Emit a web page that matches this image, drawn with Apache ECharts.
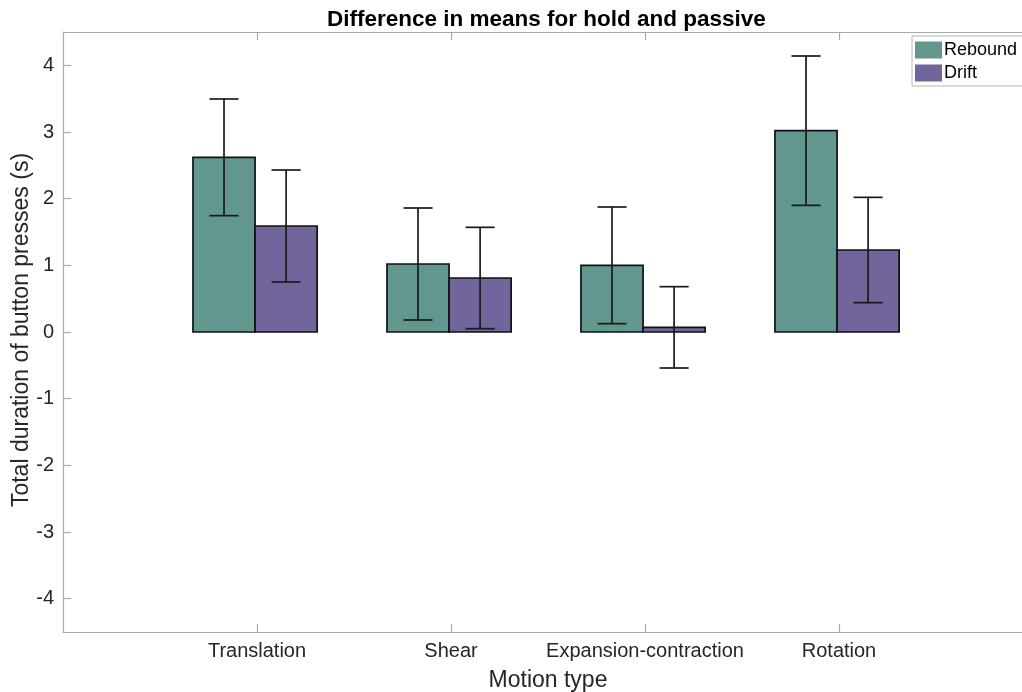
<!DOCTYPE html>
<html>
<head>
<meta charset="utf-8">
<script src="https://cdn.jsdelivr.net/npm/echarts@6/dist/echarts.min.js"></script>
<style>html,body{margin:0;padding:0;background:#fff;}#c{width:1022px;height:692px;}</style>
</head>
<body>
<div id="c"></div>
<script>
var categories = ['Translation', 'Shear', 'Expansion-contraction', 'Rotation'];
var seriesNames = ['Rebound', 'Drift'];
var rebound = [2.62, 1.02, 1.00, 3.02];
var reboundErr = [0.875, 0.84, 0.875, 1.12];
var drift = [1.59, 0.81, 0.07, 1.23];
var driftErr = [0.84, 0.76, 0.61, 0.79];
var yTicks = [-4, -3, -2, -1, 0, 1, 2, 3, 4];
var xTicks = [1, 2, 3, 4];
var yAxisName = 'Total duration of button presses (s)';

var colors = ['#62978f', '#72659b'];
var FONT = 'Helvetica, "Liberation Sans", Arial, sans-serif';

function makeData(vals, errs) {
  return vals.map(function (v, i) { return [i + 1, v, errs[i]]; });
}

function renderer(side) {
  return function (params, api) {
    var x = api.value(0) - 0.01, v = api.value(1), e = api.value(2);
    var bw = 0.32;
    var x0 = side < 0 ? x - bw : x;
    var x1 = side < 0 ? x : x + bw;
    var p0 = api.coord([x0, v]);
    var p1 = api.coord([x1, 0]);
    var cx = side < 0 ? x - 0.16 : x + 0.16;
    var top = api.coord([cx, v + e]);
    var bot = api.coord([cx, v - e]);
    var capL = api.coord([cx - 0.075, 0])[0];
    var capR = api.coord([cx + 0.075, 0])[0];
    var ry = Math.min(p0[1], p1[1]);
    var rh = Math.max(Math.abs(p1[1] - p0[1]), 1);
    var lineStyle = { stroke: '#1a1a1a', lineWidth: 1.7 };
    return {
      type: 'group',
      children: [
        { type: 'rect', shape: { x: p0[0], y: ry, width: p1[0] - p0[0], height: rh },
          style: { fill: colors[side < 0 ? 0 : 1], stroke: '#111', lineWidth: 1.7 } },
        { type: 'line', shape: { x1: top[0], y1: top[1], x2: bot[0], y2: bot[1] }, style: lineStyle },
        { type: 'line', shape: { x1: capL, y1: top[1], x2: capR, y2: top[1] }, style: lineStyle },
        { type: 'line', shape: { x1: capL, y1: bot[1], x2: capR, y2: bot[1] }, style: lineStyle }
      ]
    };
  };
}

var axisLineStyle = { color: '#a9a9a9', width: 1.2 };

var option = {
  backgroundColor: '#fff',
  animation: false,
  title: {
    text: 'Difference in means for hold and passive',
    left: 322, top: 3,
    textStyle: { fontFamily: FONT, fontSize: 22.5, fontWeight: 'bold', color: '#000' }
  },
  legend: {
    orient: 'vertical',
    left: 912, top: 36,
    padding: [5, 12, 4, 3],
    itemWidth: 27, itemHeight: 17, itemGap: 5,
    backgroundColor: '#fff',
    borderColor: '#b5b5b5', borderWidth: 1,
    borderRadius: 0,
    textStyle: { fontFamily: FONT, fontSize: 18, color: '#000', padding: [0, 0, 0, -3] },
    data: [
      { name: 'Rebound', icon: 'rect', itemStyle: { color: colors[0] } },
      { name: 'Drift', icon: 'rect', itemStyle: { color: colors[1] } }
    ]
  },
  graphic: [{
    type: 'text', x: 22, y: 330, rotation: Math.PI / 2,
    style: { text: yAxisName, fontFamily: FONT, fontSize: 23, fill: '#262626',
      align: 'center', verticalAlign: 'middle' }
  }],
  grid: { left: 63, top: 32, width: 970, height: 600, containLabel: false, outerBoundsMode: 'none' },
  xAxis: [{
    type: 'value', min: 0, max: 5, position: 'bottom',
    name: 'Motion type', nameLocation: 'middle', nameGap: 37,
    nameTextStyle: { fontFamily: FONT, fontSize: 23, color: '#262626' },
    axisLine: { show: true, onZero: false, lineStyle: axisLineStyle },
    axisTick: { show: true, inside: true, length: 8, customValues: xTicks, lineStyle: axisLineStyle },
    axisLabel: { customValues: xTicks, fontFamily: FONT, fontSize: 20, color: '#262626', margin: 9,
      formatter: function (v) { return categories[Math.round(v) - 1] || ''; } },
    splitLine: { show: false }
  }, {
    type: 'value', min: 0, max: 5, position: 'top',
    axisLine: { show: true, onZero: false, lineStyle: axisLineStyle },
    axisTick: { show: true, inside: true, length: 8, customValues: xTicks, lineStyle: axisLineStyle },
    axisLabel: { show: false },
    splitLine: { show: false }
  }],
  yAxis: [{
    type: 'value', min: -4.5, max: 4.5,
    axisLine: { show: true, onZero: false, lineStyle: axisLineStyle },
    axisTick: { show: true, inside: true, length: 8, customValues: yTicks, lineStyle: axisLineStyle },
    axisLabel: { customValues: yTicks, fontFamily: FONT, fontSize: 20, color: '#262626', margin: 9 },
    splitLine: { show: false }
  }],
  series: [
    { name: 'Rebound', type: 'custom', renderItem: renderer(-1), data: makeData(rebound, reboundErr),
      itemStyle: { color: colors[0] }, encode: { x: 0, y: [1, 2] }, clip: false },
    { name: 'Drift', type: 'custom', renderItem: renderer(1), data: makeData(drift, driftErr),
      itemStyle: { color: colors[1] }, encode: { x: 0, y: [1, 2] }, clip: false }
  ]
};

var chart = echarts.init(document.getElementById('c'), null, { renderer: 'canvas' });
chart.setOption(option);
</script>
</body>
</html>
